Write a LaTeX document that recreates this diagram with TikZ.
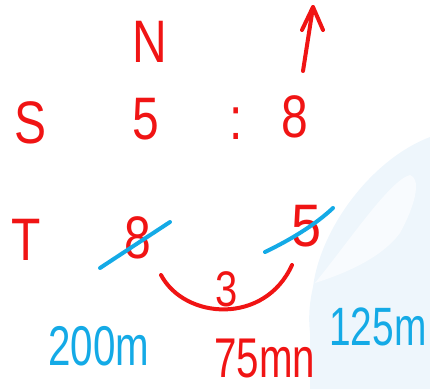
\documentclass[tikz,border=0pt]{standalone}
\usepackage{fontspec}
\usepackage{graphicx}
\setmainfont{Liberation Sans}
\definecolor{pen}{RGB}{240,20,20}
\definecolor{bpen}{RGB}{20,170,230}
\definecolor{wm}{RGB}{238,246,252}
\begin{document}
\begin{tikzpicture}[x=1pt,y=-1pt,
  red/.style={text=pen,inner sep=0pt,font=\fontsize{60}{60}\selectfont},
  blue/.style={text=bpen,inner sep=0pt,font=\fontsize{58}{58}\selectfont},
  stroke/.style={line width=4pt,line cap=round,line join=round}]
\useasboundingbox (0,0) rectangle (430,389);
% watermark
\fill[wm] (313,287) .. controls (320,230) and (370,160) .. (430,137) -- (430,389) -- (310,389) -- (310,333) .. controls (308,315) and (310,300) .. (313,287) -- cycle;
\fill[white!60!wm] (315,283) .. controls (350,240) and (390,180) .. (410,175) .. controls (420,178) and (418,200) .. (400,233) .. controls (380,260) and (340,275) .. (315,283) -- cycle;
% texts
\node[red] (N) at (150,42) {\scalebox{0.8}[1]{N}};
\node[red] (S) at (31,123) {\scalebox{0.8}[1]{S}};
\node[red] (a5) at (146,119) {\scalebox{0.8}[1]{5}};
\node[red] (col) at (236,124) {\scalebox{0.8}[1]{:}};
\node[red] (a8) at (295,117) {\scalebox{0.8}[1]{8}};
\node[red] (T) at (26,240) {\scalebox{0.8}[1]{T}};
\node[red] (b8) at (138,238) {\scalebox{0.8}[1]{8}};
\node[red] (b5) at (307,226) {\scalebox{0.9}[1]{5}};
\node[red,font=\fontsize{50}{50}\selectfont] (three) at (227,289) {\scalebox{0.8}[1]{3}};
\node[blue,font=\fontsize{56}{56}\selectfont] (d200) at (99,346) {\scalebox{0.72}[1]{200m}};
\node[red,font=\fontsize{56}{56}\selectfont] (d75) at (265,358) {\scalebox{0.72}[1]{75mn}};
\node[blue,font=\fontsize{54}{54}\selectfont] (d125) at (378,327) {\scalebox{0.72}[1]{125m}};
% arrow above 8
\coordinate (atop) at (313,7);
\draw[pen,stroke] (303,71) -- (atop);
\draw[pen,stroke] (302,30) -- (atop) -- (323,30);
% strikes
\draw[bpen,stroke] (100,268) -- (170,222);
\draw[bpen,stroke] (265,252) .. controls (290,240) and (315,225) .. (333,208);
% arc
\draw[pen,stroke] (161,275) .. controls (185,320) and (265,325) .. (292,265);
\end{tikzpicture}
\end{document}
